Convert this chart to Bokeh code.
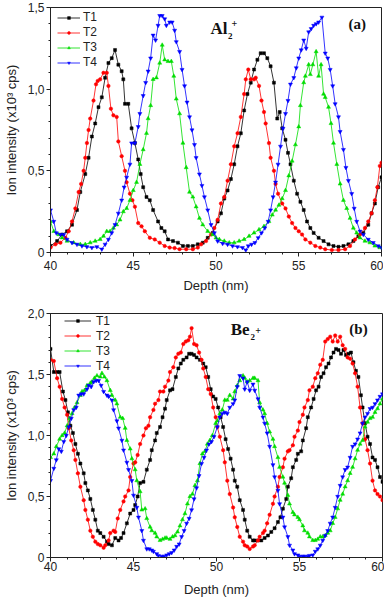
from bokeh.plotting import figure
from bokeh.layouts import column
from bokeh.models import Range1d, FixedTicker, Label, Legend, LegendItem, CustomJSTickFormatter
from bokeh.embed import file_html
from bokeh.resources import INLINE

# ---------------- data: Al2+ (panel a) ----------------
al_t1_depth = [40.0,40.4,40.7,41.0,41.3,41.6,41.8,42.1,42.3,42.5,42.7,42.9,43.1,43.3,43.5,43.7,43.9,44.1,44.3,44.4,
               44.5,44.7,44.9,45.1,45.3,45.45,45.6,45.8,46.0,46.2,46.5,46.7,46.9,47.1,47.4,47.7,48.0,48.3,48.6,48.9,
               49.2,49.5,49.8,50.1,50.3,50.5,50.7,50.9,51.1,51.3,51.5,51.7,51.9,52.1,52.3,52.5,52.7,52.9,53.1,53.3,
               53.5,53.7,53.85,54.0,54.2,54.35,54.5,54.7,54.9,55.1,55.3,55.5,55.7,55.9,56.2,56.5,56.8,57.1,57.4,57.7,
               58.0,58.3,58.6,58.9,59.2,59.4,59.6,59.8,60.0]
al_t1 = [0.04,0.07,0.11,0.13,0.17,0.26,0.37,0.48,0.58,0.71,0.79,0.89,0.95,1.07,1.16,1.19,1.24,1.15,1.11,1.06,
         0.91,0.91,0.76,0.67,0.57,0.48,0.40,0.34,0.32,0.26,0.19,0.15,0.13,0.08,0.07,0.06,0.04,0.04,0.04,0.05,
         0.06,0.09,0.12,0.19,0.24,0.33,0.38,0.45,0.54,0.65,0.73,0.87,0.97,1.04,1.12,1.18,1.22,1.22,1.19,1.14,
         1.04,0.82,0.86,0.76,0.69,0.61,0.54,0.44,0.36,0.31,0.26,0.19,0.15,0.12,0.09,0.07,0.05,0.04,0.035,0.04,
         0.05,0.07,0.10,0.12,0.17,0.24,0.30,0.40,0.46]

al_t2_depth = [40.0,40.3,40.6,40.9,41.1,41.3,41.5,41.7,41.85,42.0,42.1,42.2,42.3,42.4,42.6,42.75,42.85,43.0,43.2,43.4,
               43.5,43.65,43.8,44.0,44.1,44.3,44.5,44.6,44.8,44.95,45.1,45.3,45.5,45.7,46.0,46.3,46.6,46.9,47.2,47.5,
               47.8,48.2,48.6,48.9,49.1,49.4,49.7,49.9,50.1,50.3,50.5,50.7,50.9,51.1,51.3,51.5,51.7,51.8,51.95,52.1,
               52.3,52.4,52.6,52.75,52.9,53.0,53.2,53.3,53.5,53.6,53.75,54.0,54.2,54.4,54.6,54.8,55.0,55.2,55.4,55.7,
               56.0,56.3,56.6,57.0,57.4,57.8,58.1,58.4,58.7,59.0,59.2,59.4,59.6,59.75,59.9,60.0]
al_t2 = [0.03,0.05,0.06,0.09,0.13,0.19,0.27,0.37,0.42,0.50,0.58,0.67,0.75,0.82,0.93,1.03,1.05,1.06,1.10,1.10,
         1.02,0.88,0.84,0.83,0.68,0.59,0.50,0.43,0.36,0.32,0.28,0.18,0.16,0.13,0.09,0.08,0.06,0.04,0.03,0.027,
         0.02,0.02,0.02,0.03,0.05,0.07,0.11,0.15,0.20,0.30,0.34,0.44,0.54,0.65,0.73,0.83,0.97,1.06,1.12,1.06,
         1.06,1.07,1.02,0.93,0.86,0.79,0.67,0.58,0.50,0.42,0.36,0.30,0.27,0.22,0.18,0.15,0.13,0.11,0.08,0.06,
         0.04,0.03,0.02,0.015,0.015,0.02,0.04,0.08,0.11,0.15,0.19,0.24,0.32,0.40,0.53,0.55]

al_t3_depth = [40.0,40.2,40.5,40.7,41.0,41.4,41.8,42.1,42.4,42.7,43.0,43.2,43.4,43.6,43.8,44.0,44.2,44.4,44.6,44.8,
               45.0,45.2,45.4,45.6,45.8,45.9,46.05,46.2,46.4,46.6,46.75,46.9,47.1,47.3,47.45,47.6,47.8,48.0,48.2,48.4,
               48.6,48.8,49.0,49.2,49.5,49.8,50.0,50.2,50.5,50.8,51.1,51.4,51.7,52.0,52.3,52.6,52.9,53.2,53.4,53.6,
               53.8,54.0,54.2,54.4,54.6,54.8,55.0,55.1,55.3,55.4,55.6,55.7,55.85,56.05,56.2,56.35,56.5,56.6,56.8,56.95,
               57.1,57.3,57.5,57.7,57.9,58.1,58.3,58.5,58.7,59.0,59.3,59.6,59.9]
al_t3 = [0.19,0.13,0.11,0.09,0.07,0.06,0.05,0.05,0.06,0.07,0.08,0.10,0.13,0.13,0.15,0.17,0.20,0.25,0.27,0.32,
         0.38,0.43,0.54,0.63,0.73,0.82,0.90,1.06,1.07,1.16,1.27,1.18,1.17,1.17,1.08,0.94,0.85,0.67,0.52,0.37,
         0.34,0.28,0.21,0.17,0.13,0.11,0.09,0.08,0.07,0.06,0.06,0.07,0.08,0.10,0.12,0.14,0.16,0.19,0.23,0.26,
         0.29,0.33,0.38,0.47,0.56,0.66,0.77,0.90,1.04,1.08,1.15,1.09,1.15,1.23,1.08,1.15,0.97,0.95,0.89,0.79,
         0.67,0.54,0.42,0.32,0.27,0.21,0.15,0.12,0.09,0.07,0.06,0.04,0.03]

al_t4_depth = [40.0,40.2,40.35,40.6,40.8,41.0,41.3,41.6,41.9,42.2,42.5,42.8,43.1,43.3,43.5,43.7,43.9,44.1,44.3,44.45,
               44.6,44.8,44.9,45.1,45.3,45.4,45.6,45.75,45.9,46.05,46.2,46.35,46.5,46.6,46.75,46.9,47.0,47.2,47.35,47.5,
               47.6,47.8,47.95,48.1,48.25,48.4,48.55,48.7,48.8,49.0,49.15,49.3,49.5,49.7,49.9,50.1,50.4,50.7,51.0,51.3,
               51.6,51.8,51.95,52.15,52.35,52.55,52.75,52.95,53.15,53.3,53.45,53.6,53.75,53.9,54.05,54.2,54.35,54.5,54.7,54.85,
               55.0,55.15,55.3,55.45,55.6,55.75,55.9,56.05,56.2,56.4,56.6,56.75,56.9,57.05,57.2,57.4,57.5,57.7,57.85,58.0,
               58.2,58.35,58.5,58.7,58.9,59.2,59.5,59.8,60.0]
al_t4 = [0.26,0.19,0.12,0.11,0.11,0.08,0.06,0.05,0.04,0.035,0.03,0.035,0.02,0.05,0.08,0.12,0.17,0.24,0.32,0.40,
         0.46,0.54,0.67,0.67,0.77,0.85,0.96,1.04,1.11,1.19,1.33,1.30,1.39,1.45,1.45,1.43,1.39,1.41,1.41,1.36,
         1.29,1.23,1.12,1.02,0.92,0.83,0.75,0.66,0.58,0.48,0.41,0.34,0.26,0.17,0.12,0.07,0.055,0.05,0.04,0.035,
         0.03,0.015,0.04,0.05,0.06,0.09,0.12,0.15,0.19,0.26,0.34,0.43,0.54,0.65,0.76,0.85,0.93,1.03,1.07,1.13,
         1.19,1.24,1.30,1.25,1.35,1.37,1.39,1.40,1.41,1.44,1.22,1.19,1.12,1.02,0.91,0.83,0.74,0.63,0.52,0.44,
         0.36,0.27,0.19,0.13,0.11,0.08,0.06,0.04,0.03]

# ---------------- data: Be2+ (panel b) ----------------
be_t1_depth = [40.0,40.2,40.4,40.55,40.75,40.9,41.05,41.2,41.35,41.5,41.65,41.8,42.0,42.1,42.25,42.4,42.55,42.7,42.85,43.0,
               43.2,43.4,43.5,43.7,43.9,44.1,44.25,44.4,44.6,44.8,45.0,45.1,45.25,45.4,45.6,45.8,46.0,46.1,46.3,46.4,
               46.6,46.75,46.9,47.0,47.2,47.35,47.55,47.7,47.85,48.0,48.2,48.35,48.5,48.65,48.8,49.0,49.2,49.35,49.5,49.65,
               49.8,49.95,50.1,50.25,50.4,50.55,50.7,50.85,51.0,51.1,51.25,51.4,51.6,51.7,51.85,52.0,52.2,52.3,52.5,52.7,
               52.9,53.1,53.3,53.5,53.7,53.85,54.0,54.2,54.3,54.5,54.6,54.8,54.9,55.1,55.2,55.4,55.5,55.7,55.85,56.0,
               56.15,56.3,56.45,56.6,56.75,56.9,57.05,57.2,57.35,57.5,57.65,57.8,57.95,58.1,58.25,58.4,58.55,58.7,58.8,58.95,
               59.1,59.25,59.4,59.55,59.7,59.85,60.0]
be_t1 = [1.71,1.52,1.52,1.52,1.36,1.29,1.19,1.08,1.02,0.93,0.85,0.77,0.69,0.61,0.55,0.48,0.39,0.31,0.22,0.20,
         0.17,0.13,0.11,0.10,0.16,0.14,0.16,0.20,0.28,0.36,0.39,0.43,0.50,0.61,0.62,0.72,0.80,0.88,0.96,1.02,
         1.07,1.15,1.22,1.29,1.37,1.38,1.48,1.55,1.59,1.62,1.64,1.67,1.67,1.66,1.64,1.62,1.59,1.56,1.48,1.38,
         1.32,1.30,1.23,1.15,1.07,0.97,0.89,0.81,0.72,0.63,0.58,0.47,0.39,0.31,0.22,0.17,0.14,0.14,0.14,0.14,
         0.16,0.18,0.21,0.24,0.29,0.33,0.40,0.48,0.58,0.65,0.74,0.80,0.85,0.87,0.96,1.06,1.15,1.23,1.30,1.37,
         1.40,1.48,1.51,1.56,1.59,1.64,1.68,1.71,1.70,1.67,1.70,1.66,1.67,1.68,1.60,1.53,1.48,1.33,1.23,1.10,
         0.99,0.93,0.82,0.80,0.74,0.66,0.62]

be_t2_depth = [40.0,40.2,40.4,40.55,40.7,40.85,41.0,41.1,41.25,41.4,41.5,41.65,41.8,42.0,42.1,42.25,42.4,42.55,42.7,42.85,
               43.0,43.2,43.3,43.5,43.6,43.8,43.9,44.05,44.2,44.4,44.5,44.7,44.8,45.0,45.1,45.25,45.4,45.6,45.75,45.9,
               46.0,46.2,46.3,46.5,46.6,46.8,46.9,47.1,47.2,47.4,47.55,47.7,47.85,48.0,48.15,48.3,48.4,48.5,48.65,48.8,
               48.95,49.1,49.2,49.35,49.5,49.65,49.8,49.95,50.05,50.2,50.4,50.5,50.65,50.8,51.0,51.1,51.25,51.4,51.6,51.7,
               51.85,52.0,52.2,52.3,52.5,52.6,52.8,52.9,53.05,53.2,53.4,53.5,53.7,53.8,54.0,54.1,54.3,54.4,54.6,54.7,
               54.9,55.0,55.2,55.3,55.5,55.6,55.8,55.95,56.1,56.25,56.4,56.55,56.7,56.85,57.0,57.15,57.3,57.45,57.6,57.75,
               57.9,58.05,58.2,58.35,58.5,58.65,58.8,58.95,59.1,59.25,59.4,59.55,59.7,59.85,60.0]
be_t2 = [1.62,1.61,1.47,1.40,1.30,1.23,1.17,1.06,0.96,0.88,0.80,0.69,0.58,0.47,0.39,0.31,0.22,0.17,0.13,0.11,
         0.10,0.08,0.10,0.14,0.20,0.22,0.21,0.32,0.39,0.46,0.50,0.55,0.66,0.77,0.78,0.84,0.93,1.00,1.06,1.08,
         1.15,1.21,1.26,1.29,1.36,1.36,1.40,1.45,1.52,1.56,1.64,1.67,1.68,1.75,1.77,1.78,1.81,1.88,1.75,1.74,
         1.68,1.62,1.55,1.48,1.38,1.34,1.23,1.15,1.07,0.99,0.88,0.78,0.63,0.52,0.41,0.33,0.25,0.17,0.13,0.10,
         0.09,0.07,0.09,0.10,0.14,0.17,0.20,0.22,0.28,0.35,0.44,0.50,0.58,0.66,0.74,0.81,0.87,0.88,0.92,0.99,
         1.04,1.11,1.17,1.23,1.29,1.37,1.40,1.47,1.51,1.58,1.62,1.77,1.79,1.81,1.77,1.82,1.77,1.81,1.74,1.71,
         1.64,1.63,1.59,1.51,1.40,1.23,1.10,0.97,0.88,0.77,0.63,0.55,0.52,0.50,0.47]

be_t3_depth = [40.0,40.2,40.35,40.55,40.7,40.85,41.0,41.15,41.3,41.45,41.6,41.8,41.9,42.05,42.2,42.4,42.5,42.65,42.8,43.0,
               43.1,43.25,43.4,43.6,43.7,43.9,44.0,44.2,44.35,44.5,44.6,44.8,44.9,45.1,45.2,45.4,45.5,45.7,45.8,46.0,
               46.1,46.3,46.4,46.6,46.75,46.9,47.0,47.2,47.35,47.5,47.65,47.8,47.95,48.1,48.25,48.4,48.55,48.7,48.85,49.0,
               49.15,49.3,49.45,49.6,49.75,49.95,50.05,50.2,50.35,50.5,50.65,50.8,51.0,51.1,51.25,51.4,51.6,51.7,51.85,52.0,
               52.2,52.3,52.5,52.6,52.8,52.9,53.05,53.2,53.4,53.5,53.7,53.8,54.0,54.1,54.3,54.4,54.6,54.7,54.9,55.0,
               55.2,55.3,55.5,55.6,55.8,55.95,56.1,56.25,56.4,56.55,56.7,56.85,57.0,57.15,57.3,57.45,57.6,57.75,57.9,58.05,
               58.2,58.35,58.5,58.65,58.8,58.95,59.1,59.25,59.4,59.55,59.7,59.85,60.0]
be_t3 = [0.82,0.85,0.91,0.97,1.00,1.02,1.08,1.14,1.18,1.23,1.27,1.33,1.36,1.37,1.41,1.43,1.44,1.47,1.49,1.48,
         1.51,1.48,1.45,1.37,1.33,1.29,1.26,1.15,1.14,1.06,0.96,0.89,0.81,0.72,0.63,0.54,0.39,0.40,0.32,0.25,
         0.22,0.20,0.17,0.14,0.15,0.16,0.16,0.15,0.17,0.18,0.21,0.26,0.31,0.36,0.44,0.50,0.52,0.59,0.63,0.77,
         0.85,0.87,0.93,0.96,1.00,1.10,1.12,1.18,1.21,1.29,1.29,1.33,1.30,1.36,1.41,1.45,1.49,1.47,1.44,1.45,
         1.47,1.47,1.45,1.27,1.21,1.18,1.10,1.03,0.97,0.91,0.82,0.74,0.66,0.61,0.51,0.44,0.37,0.35,0.33,0.31,
         0.26,0.22,0.20,0.17,0.14,0.14,0.15,0.17,0.17,0.18,0.20,0.22,0.28,0.33,0.40,0.47,0.52,0.58,0.63,0.69,
         0.74,0.81,0.88,0.93,0.96,1.07,1.11,1.14,1.15,1.19,1.22,1.26,1.30]

be_t4_depth = [40.0,40.2,40.35,40.5,40.65,40.8,40.95,41.1,41.25,41.4,41.55,41.7,41.85,42.0,42.2,42.3,42.45,42.6,42.75,42.9,
               43.05,43.2,43.4,43.5,43.7,43.8,44.0,44.1,44.3,44.4,44.6,44.7,44.9,45.0,45.2,45.3,45.5,45.6,45.8,45.95,
               46.1,46.2,46.4,46.5,46.7,46.85,47.0,47.15,47.3,47.45,47.6,47.75,47.9,48.05,48.2,48.35,48.5,48.65,48.8,48.95,
               49.1,49.25,49.4,49.55,49.7,49.85,50.05,50.2,50.35,50.5,50.65,50.8,51.0,51.1,51.25,51.4,51.6,51.7,51.85,52.0,
               52.2,52.3,52.5,52.6,52.8,52.9,53.05,53.2,53.4,53.5,53.7,53.8,54.0,54.1,54.3,54.4,54.6,54.7,54.9,55.0,
               55.2,55.3,55.5,55.6,55.8,55.95,56.1,56.25,56.4,56.55,56.7,56.85,57.0,57.15,57.3,57.45,57.6,57.75,57.9,58.05,
               58.2,58.35,58.5,58.65,58.8,58.95,59.1,59.25,59.4,59.55,59.7,59.85,60.0]
be_t4 = [0.63,0.73,0.80,0.89,0.87,0.95,1.00,1.07,1.14,1.21,1.23,1.33,1.34,1.34,1.38,1.41,1.40,1.44,1.45,1.45,
         1.41,1.36,1.33,1.32,1.29,1.21,1.12,1.06,0.96,0.88,0.78,0.72,0.63,0.51,0.41,0.33,0.22,0.14,0.07,0.07,
         0.06,0.05,0.03,0.016,0.01,0.01,0.02,0.03,0.04,0.06,0.09,0.11,0.17,0.22,0.28,0.32,0.39,0.48,0.57,0.67,
         0.77,0.82,0.88,0.93,0.95,0.99,1.07,1.15,1.18,1.19,1.18,1.23,1.26,1.29,1.40,1.49,1.47,1.38,1.44,1.37,
         1.42,1.37,1.30,1.23,1.15,1.10,1.02,0.91,0.76,0.66,0.55,0.44,0.33,0.25,0.17,0.10,0.06,0.03,0.02,0.01,
         0.01,0.01,0.01,0.016,0.02,0.05,0.07,0.10,0.14,0.18,0.22,0.28,0.33,0.41,0.50,0.59,0.66,0.72,0.74,0.82,
         0.91,0.93,0.97,1.02,1.10,1.15,1.18,1.22,1.23,1.26,1.29,1.32,1.34]

series_names = ["T1", "T2", "T3", "T4"]
x_ticks = [40, 45, 50, 55, 60]
al_y_ticks = [0, 0.5, 1.0, 1.5]
be_y_ticks = [0, 0.5, 1.0, 1.5, 2.0]

# ---------------- styling ----------------
COLORS = ["#000000", "#ff0000", "#00dd00", "#0000ff"]
MARKERS = ["square", "circle", "triangle", "inverted_triangle"]
SIZES = [3, 3.5, 4, 4]
SANS = "Liberation Sans"
SERIF = "Liberation Serif"
INK = "#222222"
LEG_ROW = 15

fmt = CustomJSTickFormatter(code="return tick == 0 ? '0' : tick.toFixed(1).replace('.', ',');")


def make_panel(series, ymax, yticks, fw, fh, bl, bt, bb, xstandoff, xlabelstandoff,
               leg_dx, leg_dtop, leg_glyph_w, leg_standoff):
    p = figure(frame_width=fw, frame_height=fh,
               x_range=Range1d(40, 60), y_range=Range1d(0, ymax),
               output_backend="svg", toolbar_location=None,
               min_border_left=bl, min_border_right=2,
               min_border_top=bt, min_border_bottom=bb)
    p.xgrid.visible = False
    p.ygrid.visible = False
    p.outline_line_color = INK
    p.outline_line_alpha = 1.0
    p.outline_line_width = 1
    p.background_fill_color = "white"
    p.border_fill_color = "white"

    p.xaxis.ticker = FixedTicker(ticks=x_ticks, minor_ticks=list(range(40, 61)))
    yminor = [round(i * 0.1, 1) for i in range(0, int(round(ymax * 10)) + 1)]
    p.yaxis.ticker = FixedTicker(ticks=yticks, minor_ticks=yminor)
    p.yaxis.formatter = fmt
    p.xaxis.axis_label = "Depth (nm)"
    p.yaxis.axis_label = "Ion intensity (x10³ cps)"
    for ax in (p.xaxis, p.yaxis):
        ax.axis_line_color = INK
        ax.major_tick_line_color = INK
        ax.minor_tick_line_color = INK
        ax.major_tick_in = 0
        ax.major_tick_out = 4
        ax.minor_tick_in = 0
        ax.minor_tick_out = 2
        ax.major_label_text_font = SANS
        ax.major_label_text_font_size = "12px"
        ax.major_label_text_color = INK
        ax.axis_label_text_font = SANS
        ax.axis_label_text_font_size = "13px"
        ax.axis_label_text_font_style = "normal"
        ax.axis_label_text_color = INK
    p.yaxis.major_label_standoff = 2
    p.yaxis.axis_label_standoff = 6
    p.xaxis.major_label_standoff = xstandoff
    p.xaxis.axis_label_standoff = xlabelstandoff

    items = []
    for (d, v), name, c, m, s in zip(series, series_names, COLORS, MARKERS, SIZES):
        ln = p.line(d, v, line_color=c, line_width=0.8)
        sc = p.scatter(d, v, marker=m, size=s, fill_color=c, line_color=c, line_width=0.5)
        items.append(LegendItem(label=name, renderers=[ln, sc]))
    # tuple location = legend's bottom-left corner, measured from the frame's bottom-left
    leg_bottom = fh - leg_dtop - LEG_ROW * len(items)
    leg = Legend(items=items, location=(leg_dx, leg_bottom),
                 border_line_color=None, background_fill_alpha=0,
                 label_text_font=SANS, label_text_font_size="12px", label_text_color=INK,
                 glyph_width=leg_glyph_w, glyph_height=7, label_height=LEG_ROW,
                 label_standoff=leg_standoff, spacing=0, margin=0, padding=0)
    p.add_layout(leg)
    return p


def add_text(p, x, y, text, size):
    p.add_layout(Label(x=x, y=y, text=text, text_font=SERIF, text_font_style="bold",
                       text_font_size=size, text_color="#111111"))


# panel (a): frame 48..379 x 7..252
pa = make_panel([(al_t1_depth, al_t1), (al_t2_depth, al_t2), (al_t3_depth, al_t3), (al_t4_depth, al_t4)],
                1.5, al_y_ticks, 331, 245, 48, 7, 53, 4, 5, 7, 2.5, 23, 3)
add_text(pa, 49.67, 1.316, "Al", "17px")
add_text(pa, 50.73, 1.31, "2", "9px")
add_text(pa, 50.94, 1.378, "+", "10px")
add_text(pa, 58.0, 1.353, "(a)", "15px")

# panel (b): frame 49..381 x 313..557
pb = make_panel([(be_t1_depth, be_t1), (be_t2_depth, be_t2), (be_t3_depth, be_t3), (be_t4_depth, be_t4)],
                2.0, be_y_ticks, 332, 244, 49, 8, 43, 0, 8, 14, 0, 27, 5)
add_text(pb, 50.86, 1.787, "Be", "17px")
add_text(pb, 52.05, 1.78, "2", "9px")
add_text(pb, 52.33, 1.836, "+", "10px")
add_text(pb, 58.0, 1.81, "(b)", "15px")

layout = column(pa, pb, spacing=0)
open("out.html", "w").write(file_html(layout, INLINE))
